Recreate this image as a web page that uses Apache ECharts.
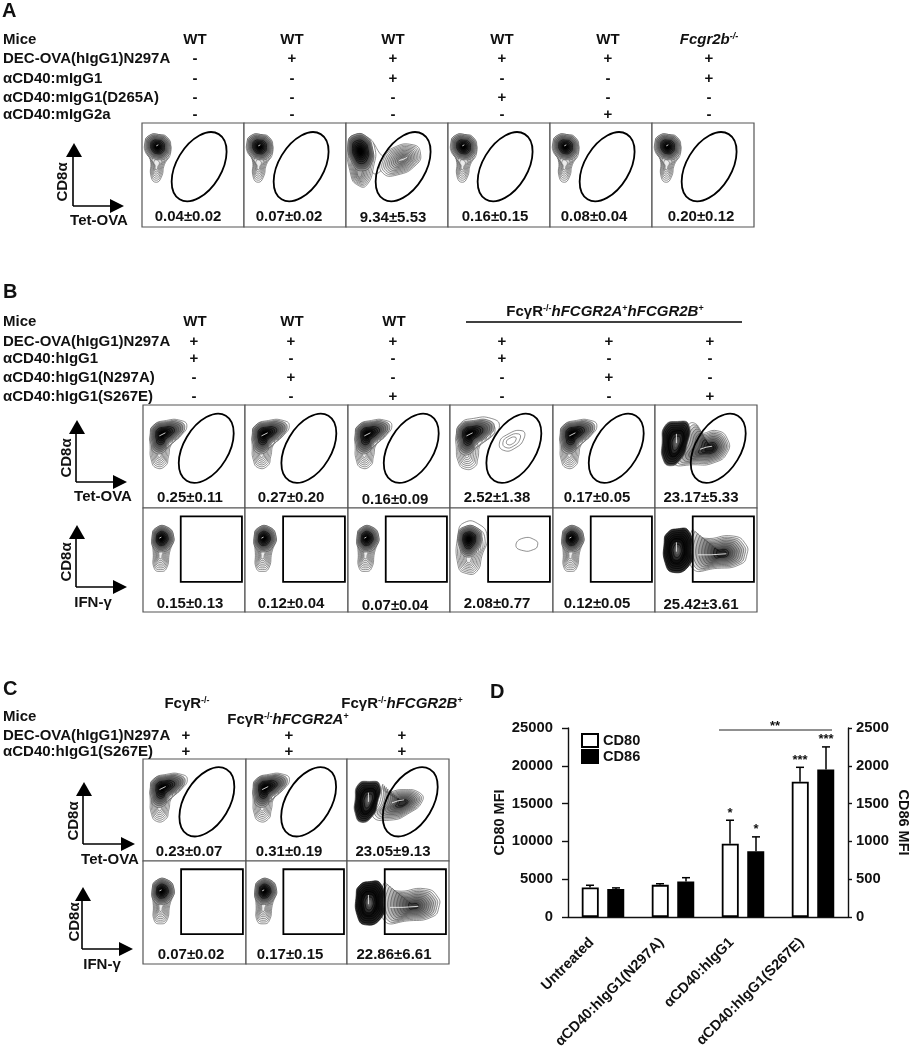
<!DOCTYPE html>
<html>
<head>
<meta charset="utf-8">
<style>html,body{margin:0;padding:0;background:#fff}#c{width:910px;height:1050px}</style>
<script src="https://cdn.jsdelivr.net/npm/echarts@6/dist/echarts.min.js"></script>
</head>
<body>
<div id="c"></div>
<script>
// ---------- Panel D data ----------
const categoriesD = ['Untreated', 'αCD40:hIgG1(N297A)', 'αCD40:hIgG1', 'αCD40:hIgG1(S267E)'];
const cd80 = [3900, 4250, 9700, 17900];
const cd80ErrTop = [4200, 4400, 12800, 19800];
const cd86 = [370, 470, 870, 1950];
const cd86ErrTop = [385, 520, 1060, 2250];
const cd80Stars = ['', '', '*', '***'];
const cd86Stars = ['', '', '*', '***'];

// ---------- Flow panel values ----------
const valuesA = ['0.04±0.02', '0.07±0.02', '9.34±5.53', '0.16±0.15', '0.08±0.04', '0.20±0.12'];
const valuesBTop = ['0.25±0.11', '0.27±0.20', '0.16±0.09', '2.52±1.38', '0.17±0.05', '23.17±5.33'];
const valuesBBottom = ['0.15±0.13', '0.12±0.04', '0.07±0.04', '2.08±0.77', '0.12±0.05', '25.42±3.61'];
const valuesCTop = ['0.23±0.07', '0.31±0.19', '23.05±9.13'];
const valuesCBottom = ['0.07±0.02', '0.17±0.15', '22.86±6.61'];

// ---------- Header tables ----------
const rowsA = ['Mice', 'DEC-OVA(hIgG1)N297A', 'αCD40:mIgG1', 'αCD40:mIgG1(D265A)', 'αCD40:mIgG2a'];
const miceA = ['WT', 'WT', 'WT', 'WT', 'WT'];
const signsA = [['-', '+', '+', '+', '+', '+'], ['-', '-', '+', '-', '-', '+'], ['-', '-', '-', '+', '-', '-'], ['-', '-', '-', '-', '+', '-']];
const rowsB = ['Mice', 'DEC-OVA(hIgG1)N297A', 'αCD40:hIgG1', 'αCD40:hIgG1(N297A)', 'αCD40:hIgG1(S267E)'];
const miceB = ['WT', 'WT', 'WT'];
const signsB = [['+', '+', '+', '+', '+', '+'], ['+', '-', '-', '+', '-', '-'], ['-', '+', '-', '-', '+', '-'], ['-', '-', '+', '-', '-', '+']];
const rowsC = ['Mice', 'DEC-OVA(hIgG1)N297A', 'αCD40:hIgG1(S267E)'];
const signsC = [['+', '+', '+'], ['+', '+', '+']];

// ---------- Contour outlines (percent of a panel) ----------
const dropBody = [[3,19],[6,13],[16,11],[26,18],[28,29],[22,40],[19,52],[14,57],[9,52],[8,35],[3,27]];
const dropHead = [[3,19],[7,12],[16,11],[25,14],[28,24],[24,33],[14,35],[6,30]];
const bentBody = [[7,30],[10,20],[23,15],[37,15],[43,20],[37,30],[28,38],[25,50],[22,59],[13,61],[8,53],[7,40]];
const bentHead = [[7,30],[10,20],[23,16],[36,16],[41,22],[35,30],[25,38],[20,46],[11,46],[8,38]];
const narrowBody = [[9,27],[13,19],[23,18],[30,27],[26,43],[23,58],[17,61],[11,58],[10,43]];
const narrowHead = [[9,27],[13,19],[23,18],[30,27],[28,36],[20,42],[11,39]];
const a3Body = [[2,19],[9,11],[20,13],[28,23],[27,42],[20,60],[12,60],[5,51]];
const a3Head = [[2,19],[9,11],[20,13],[26,24],[25,39],[16,46],[7,40]];
const a3Neck = [[26,20],[33,29],[38,36],[33,47],[26,47]];
const a3Right = [[35,35],[46,24],[66,21],[73,29],[69,40],[50,50],[36,48]];
const b4TopBody = [[6,30],[10,18],[23,13],[40,13],[48,20],[40,31],[30,38],[27,52],[24,60],[14,62],[8,55],[6,40]];
const b4TopHead = [[6,30],[10,19],[23,15],[38,15],[43,22],[36,31],[26,38],[20,47],[11,47],[8,38]];
const b4TopRing = [[48,37],[55,29],[70,25],[72,32],[63,42],[52,44]];
const b4BottomBody = [[8,24],[14,14],[27,15],[36,27],[31,46],[26,61],[16,63],[8,56]];
const b4BottomHead = [[8,25],[14,18],[26,19],[31,28],[25,43],[16,47],[10,40]];
const b4BottomRing = [[64,36],[71,29],[83,31],[85,36],[81,40],[71,41]];
const b6TopHead = [[7,37],[10,20],[22,16],[33,19],[31,40],[25,53],[15,59],[8,53]];
const b6TopRight = [[33,19],[41,19],[44,27],[61,25],[71,33],[71,46],[58,56],[38,58],[18,56],[26,37]];
const b6BottomHead = [[9,33],[12,24],[22,20],[33,22],[36,40],[33,56],[18,62],[10,53]];
const b6BottomRight = [[36,22],[48,29],[77,27],[89,35],[90,45],[84,54],[61,58],[36,57]];
const c3TopHead = [[8,40],[11,25],[22,22],[32,25],[30,43],[25,56],[14,62],[8,53]];
const c3TopRight = [[35,25],[37,32],[55,30],[71,33],[74,41],[61,53],[42,60],[25,56],[32,43]];
const innerTop = [[15,30],[22,25],[28,28],[25,42],[18,50],[14,44]];
const innerBottom = [[16,33],[23,30],[28,35],[27,48],[20,53],[15,46]];
const streakBent = [[16,30],[22,27]];
const streakDrop = [[14,22],[16,21]];
const streakA3 = [[52,36],[56,35],[60,33]];
const streakB6Top = [[44,43],[50,41],[56,40]];
const streakB6Bottom = [[42,45],[55,45],[70,44]];
const streakHead = [[21,33],[21,42]];

// part: [outline, coreX, coreY, rings, toneOuter, toneInner, curve]
const shapeDrop = [[dropBody,14,42,7,255,235,1],[dropHead,15,23,10,185,0,0.75],['s',streakDrop]];
const shapeBent = [[bentBody,16,48,7,255,235,1],[bentHead,19,28,10,175,0,0.7],['s',streakBent]];
const shapeNarrow = [[narrowBody,17,46,8,255,235,1],[narrowHead,18,29,10,175,0,0.75],['s',streakDrop.map(p=>[p[0]+2,p[1]+7])]];
const shapeA3 = [[a3Neck,30,34,1,255,255,1],[a3Body,13,50,8,255,170,1],[a3Head,14,27,10,150,0,0.6],[a3Right,56,35,11,255,130,1],['s',streakA3]];
const shapeB4Top = [[b4TopBody,16,48,7,255,235,1],[b4TopHead,19,28,10,175,0,0.7],[b4TopRing,59,35,3,255,255,1],['s',streakBent]];
const shapeB4Bottom = [[b4BottomBody,18,50,8,255,235,1],[b4BottomHead,18,30,10,175,0,0.7],[b4BottomRing,73,36,1,255,255,1]];
const shapeB6Top = [[b6TopRight,55,42,11,255,30,0.8],[b6TopHead,21,36,10,70,0,0.5],[innerTop,21,37,4,15,95,1],['s',streakB6Top],['s',streakHead.map(p=>[p[0],p[1]-5])]];
const shapeB6Bottom = [[b6BottomRight,66,44,11,255,40,0.8],[b6BottomHead,22,40,10,50,0,0.5],[innerBottom,22,41,4,15,95,1],['s',streakB6Bottom],['s',streakHead]];
const shapeC3Top = [[c3TopRight,55,43,11,255,50,0.8],[c3TopHead,20,42,10,70,0,0.5],[innerTop.map(p=>[p[0],p[1]+4]),21,41,4,15,95,1],['s',streakB6Top],['s',streakHead]];
const shapeC3Bottom = [[b6BottomRight,66,44,11,255,60,0.8],[b6BottomHead,22,40,10,50,0,0.5],[innerBottom,22,41,4,15,95,1],['s',streakB6Bottom],['s',streakHead]];

// ---------- Layout ----------
const edgesXA = [142,244,346,448,550,652,754], edgesYA = [123,227];
const edgesXB = [143,245,348,450,553,655,757], edgesYB = [405,508,612];
const edgesXC = [143,246,347,449], edgesYC = [759,861,964];

const TEXT = '#111';
const FONT = '"Liberation Sans", Arial, sans-serif';
const grids = [], xAxes = [], yAxes = [], series = [], graphic = [];

function ring(api, pts, fill, stroke, lw) {
  return {type:'polygon', shape:{points:pts.map(p=>api.coord(p)), smooth:0.55},
          style:{fill:fill, stroke:stroke, lineWidth:lw}};
}
function renderParts(shape, gate) {
  return function (params, api) {
    const ch = [];
    shape.forEach(part => {
      if (part[0] === 's') {
        ch.push({type:'polyline', shape:{points:part[1].map(p=>api.coord(p))},
                 style:{stroke:'#fff', fill:'none', lineWidth:0.8}});
        return;
      }
      const [outline, cx, cy, n, t0, t1, curve] = part;
      for (let k = 0; k < n; k++) {
        const s = n === 1 ? 1 : 1 - 0.92 * k / n;
        const t = n === 1 ? 0 : Math.pow(k / (n - 1), curve);
        const g = Math.round(t0 + (t1 - t0) * t);
        const pts = outline.map(p => [cx + (p[0]-cx)*s, cy + (p[1]-cy)*s]);
        ch.push(ring(api, pts, n === 1 || (t0 === 255 && t1 === 255) ? 'rgba(255,255,255,0)' : 'rgb('+g+','+g+','+g+')',
                     g < 70 ? '#000' : '#444', 0.6));
      }
    });
    if (gate.type === 'ellipse') {
      const c = api.coord([gate.cx, gate.cy]);
      ch.push({type:'ellipse', x:c[0], y:c[1], rotation:-31*Math.PI/180,
               shape:{cx:0, cy:0, rx:22.5, ry:38},
               style:{fill:'none', stroke:'#000', lineWidth:1.8}});
    } else {
      const a = api.coord([gate.x0, gate.y0]), b = api.coord([gate.x1, gate.y1]);
      ch.push({type:'rect', shape:{x:a[0], y:a[1], width:b[0]-a[0], height:b[1]-a[1]},
               style:{fill:'none', stroke:'#000', lineWidth:1.8}});
    }
    return {type:'group', children:ch};
  };
}
function addPanel(x0, x1, y0, y1, shape, gate) {
  const i = grids.length;
  grids.push({left:x0, top:y0, width:x1-x0, height:y1-y0, show:true, borderColor:'#555', borderWidth:1.2,
              backgroundColor:'#fff', containLabel:false, outerBoundsMode:'none'});
  xAxes.push({gridIndex:i, type:'value', min:0, max:100, show:false});
  yAxes.push({gridIndex:i, type:'value', min:0, max:100, inverse:true, show:false});
  series.push({type:'custom', xAxisIndex:xAxes.length-1, yAxisIndex:yAxes.length-1, silent:true, clip:false,
               data:[[50,50]], renderItem:renderParts(shape, gate), animation:false, z:3});
}

// ---------- Panel D: bars on grid 0 ----------
grids.push({left:568, width:280, top:728, height:189, containLabel:false, outerBoundsMode:'none'});
xAxes.push({gridIndex:0, type:'category', data:categoriesD,
  axisLine:{lineStyle:{color:'#111', width:1.4}}, axisTick:{alignWithLabel:true, length:3, lineStyle:{color:'#111', width:1.2}},
  axisLabel:{interval:0, rotate:45, margin:12, padding:[0,16,0,0], color:TEXT, fontFamily:FONT, fontWeight:'bold', fontSize:14.5}});
const plainNumber = v => String(v);
yAxes.push({gridIndex:0, type:'value', min:0, max:25000, interval:5000, name:'CD80 MFI', nameLocation:'middle', nameGap:45,
  nameTextStyle:{color:TEXT, fontFamily:FONT, fontWeight:'bold', fontSize:14.5},
  splitLine:{show:false}, axisLine:{show:true, lineStyle:{color:'#111', width:1.4}}, axisTick:{show:true, length:6, lineStyle:{color:'#111', width:1.4}},
  axisLabel:{margin:15, formatter:plainNumber, color:TEXT, fontFamily:FONT, fontWeight:'bold', fontSize:14.8}});
yAxes.push({gridIndex:0, type:'value', position:'right', min:0, max:2500, interval:500, name:'CD86 MFI', nameLocation:'middle', nameGap:47, nameRotate:-90,
  nameTextStyle:{color:TEXT, fontFamily:FONT, fontWeight:'bold', fontSize:14.5},
  splitLine:{show:false}, axisLine:{show:true, lineStyle:{color:'#111', width:1.4}}, axisTick:{show:true, length:4, lineStyle:{color:'#111', width:1.4}},
  axisLabel:{margin:8, formatter:plainNumber, color:TEXT, fontFamily:FONT, fontWeight:'bold', fontSize:14.8}});

series.push({name:'CD80', type:'bar', xAxisIndex:0, yAxisIndex:0, data:cd80, barWidth:17, barGap:'50%',
  itemStyle:{color:'#fff', borderColor:'#000', borderWidth:1.8}, animation:false, z:3});
series.push({name:'CD86', type:'bar', xAxisIndex:0, yAxisIndex:1, data:cd86, barWidth:17, barGap:'50%',
  itemStyle:{color:'#000', borderColor:'#000', borderWidth:1.8}, animation:false, z:3});

function errorSeries(name, axis, tops, stars, offset) {
  return {name:name+' err', type:'custom', xAxisIndex:0, yAxisIndex:axis, silent:true, animation:false, z:2,
    data:tops.map((v,i)=>[i,v]), clip:false,
    renderItem:function(params, api){
      const i = api.value(0);
      const top = api.coord([i, api.value(1)]);
      const base = api.coord([i, (axis===0?cd80:cd86)[i]]);
      const x = top[0] + offset, s = {stroke:'#000', lineWidth:1.5, fill:'none'};
      const ch = [
        {type:'line', shape:{x1:x, y1:base[1], x2:x, y2:top[1]}, style:s},
        {type:'line', shape:{x1:x-4, y1:top[1], x2:x+4, y2:top[1]}, style:s}
      ];
      if (stars[i]) ch.push({type:'text', x:x, y:top[1]-7, style:{text:stars[i], align:'center', verticalAlign:'middle',
          fontFamily:FONT, fontWeight:'bold', fontSize:13, fill:TEXT}});
      return {type:'group', children:ch};
    }};
}
series.push(errorSeries('CD80', 0, cd80ErrTop, cd80Stars, -13));
series.push(errorSeries('CD86', 1, cd86ErrTop, cd86Stars, 13));

// ---------- Flow panels ----------
const ellA = {type:'ellipse', cx:56, cy:42};
const ellB = {type:'ellipse', cx:62, cy:42};
const rectG = {type:'rect', x0:37, y0:8, x1:97, y1:71};
const shapesA = [shapeDrop, shapeDrop, shapeA3, shapeDrop, shapeDrop, shapeDrop];
shapesA.forEach((s,i)=>addPanel(edgesXA[i], edgesXA[i+1], edgesYA[0], edgesYA[1], s, ellA));
const shapesBT = [shapeBent, shapeBent, shapeBent, shapeB4Top, shapeBent, shapeB6Top];
shapesBT.forEach((s,i)=>addPanel(edgesXB[i], edgesXB[i+1], edgesYB[0], edgesYB[1], s, ellB));
const shapesBB = [shapeNarrow, shapeNarrow, shapeNarrow, shapeB4Bottom, shapeNarrow, shapeB6Bottom];
shapesBB.forEach((s,i)=>addPanel(edgesXB[i], edgesXB[i+1], edgesYB[1], edgesYB[2], s, rectG));
[shapeBent, shapeBent, shapeC3Top].forEach((s,i)=>addPanel(edgesXC[i], edgesXC[i+1], edgesYC[0], edgesYC[1], s, ellB));
[shapeNarrow, shapeNarrow, shapeC3Bottom].forEach((s,i)=>addPanel(edgesXC[i], edgesXC[i+1], edgesYC[1], edgesYC[2], s, rectG));

// ---------- Text and annotation ----------
function txt(x, y, text, opt) {
  opt = opt || {};
  graphic.push({type:'text', x:x, y:y, rotation:opt.rotation||0, z:20, silent:true, style:{
    text:text, align:opt.align||'center', verticalAlign:'middle', fontFamily:FONT, fontWeight:'bold',
    fontSize:opt.size||15, fontStyle:opt.italic?'italic':'normal', fill:TEXT, rich:opt.rich}});
}
function arrows(cx, cy, topY, rightX, yName, yNameX, yNameY, xName, xNameX, xNameY) {
  const s = {stroke:'#000', lineWidth:1.6, fill:'none'};
  graphic.push({type:'line', z:20, silent:true, shape:{x1:cx, y1:cy, x2:cx, y2:topY+10}, style:s});
  graphic.push({type:'line', z:20, silent:true, shape:{x1:cx, y1:cy, x2:rightX-10, y2:cy}, style:s});
  graphic.push({type:'polygon', z:20, silent:true, shape:{points:[[cx+1,topY],[cx-7,topY+14],[cx+9,topY+14]]}, style:{fill:'#000'}});
  graphic.push({type:'polygon', z:20, silent:true, shape:{points:[[rightX,cy],[rightX-14,cy-7],[rightX-14,cy+7]]}, style:{fill:'#000'}});
  txt(yNameX, yNameY, yName, {rotation:Math.PI/2});
  txt(xNameX, xNameY, xName);
}
const rich = {
  n:{fontFamily:FONT, fontWeight:'bold', fontSize:15, fill:TEXT},
  i:{fontFamily:FONT, fontWeight:'bold', fontStyle:'italic', fontSize:15, fill:TEXT},
  s:{fontFamily:FONT, fontWeight:'bold', fontSize:9, fill:TEXT, verticalAlign:'top'},
  si:{fontFamily:FONT, fontWeight:'bold', fontStyle:'italic', fontSize:9, fill:TEXT, verticalAlign:'top'}
};

// Panel letters
const letters = ['A','B','C','D'], letterX = [2,3,3,490], letterY = [11,292,689,692];
letters.forEach((l,i)=>txt(letterX[i], letterY[i], l, {align:'left', size:20}));

// A header
const rowYA = [40,59,79,98,115], colXA = [195,292,393,502,608,709];
rowsA.forEach((r,i)=>txt(3, rowYA[i], r, {align:'left'}));
miceA.forEach((m,i)=>txt(colXA[i], rowYA[0], m));
txt(colXA[5], rowYA[0], '{i|Fcgr2b}{si|-/-}', {rich:rich});
signsA.forEach((row,r)=>row.forEach((s,c)=>txt(colXA[c], rowYA[r+1], s)));
const valXA = [188,289,393,495,594,701], valYA = [217,217,218,217,217,217];
valuesA.forEach((v,i)=>txt(valXA[i], valYA[i], v));
arrows(73,206,143,124,'CD8α',63,182,'Tet-OVA',99,221);

// B header
const rowYB = [322,342,359,378,397], colXB = [194,291,393,502,609,710];
rowsB.forEach((r,i)=>txt(3, rowYB[i], r, {align:'left'}));
miceB.forEach((m,i)=>txt(colXB[i]+1, rowYB[0], m));
txt(605, 312, '{n|FcγR}{s|-/-}{i|hFCGR2A}{s|+}{i|hFCGR2B}{s|+}', {rich:rich});
graphic.push({type:'line', z:20, silent:true, shape:{x1:466, y1:322, x2:742, y2:322}, style:{stroke:'#000', lineWidth:1.5}});
signsB.forEach((row,r)=>row.forEach((s,c)=>txt(colXB[c], rowYB[r+1], s)));
const valXB = [190,291,395,497,597,701], valYBT = [498,498,500,498,498,498], valYBB = [604,604,606,604,604,605];
valuesBTop.forEach((v,i)=>txt(valXB[i], valYBT[i], v));
valuesBBottom.forEach((v,i)=>txt(valXB[i], valYBB[i], v));
arrows(76,482,420,127,'CD8α',67,458,'Tet-OVA',103,497);
arrows(76,587,525,127,'CD8α',67,562,'IFN-γ',93,603);

// C header
const rowYC = [717,736,752], colXC = [186,289,402];
rowsC.forEach((r,i)=>txt(3, rowYC[i], r, {align:'left'}));
txt(187, 704, '{n|FcγR}{s|-/-}', {rich:rich});
txt(288, 720, '{n|FcγR}{s|-/-}{i|hFCGR2A}{s|+}', {rich:rich});
txt(402, 704, '{n|FcγR}{s|-/-}{i|hFCGR2B}{s|+}', {rich:rich});
signsC.forEach((row,r)=>row.forEach((s,c)=>txt(colXC[c], rowYC[r+1], s)));
const valXCT = [189,289,393], valXCB = [191,290,394];
valuesCTop.forEach((v,i)=>txt(valXCT[i], 852, v));
valuesCBottom.forEach((v,i)=>txt(valXCB[i], 955, v));
arrows(83,844,782,135,'CD8α',74,821,'Tet-OVA',110,860);
arrows(82,949,887,133,'CD8α',75,922,'IFN-γ',102,965);

// D significance bracket
graphic.push({type:'line', z:20, silent:true, shape:{x1:719, y1:730, x2:832, y2:730}, style:{stroke:'#222', lineWidth:1}});
txt(775, 726, '**', {size:13});

const chart = echarts.init(document.getElementById('c'), null, {renderer:'canvas'});
chart.setOption({
  animation:false, backgroundColor:'#fff',
  grid:grids, xAxis:xAxes, yAxis:yAxes, series:series, graphic:graphic,
  legend:{data:[{name:'CD80', icon:'rect'},{name:'CD86', icon:'rect'}], orient:'vertical', left:581, top:733, padding:0, itemWidth:16, itemHeight:13, itemGap:1,
    textStyle:{color:TEXT, fontFamily:FONT, fontWeight:'bold', fontSize:14.6}, selectedMode:false}
});
</script>
</body>
</html>
